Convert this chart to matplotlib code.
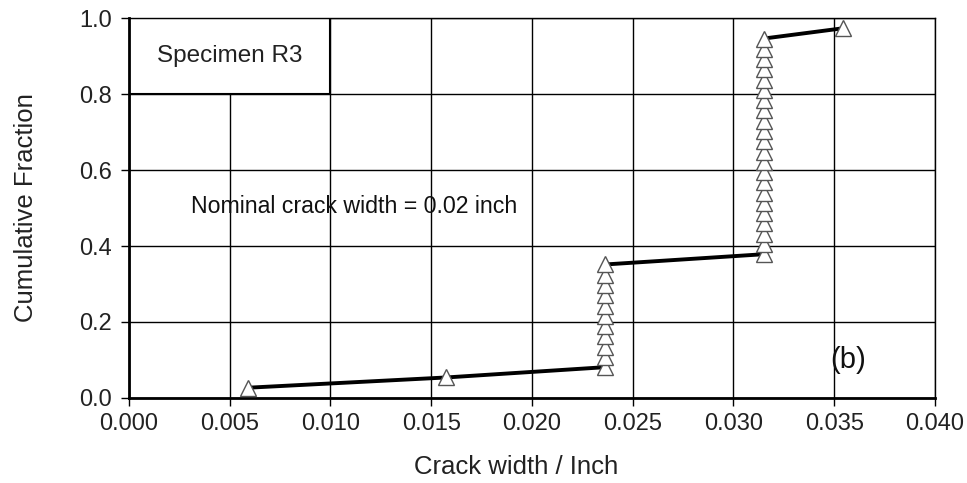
import matplotlib.pyplot as plt

plt.rcParams['font.family'] = ['Liberation Sans', 'DejaVu Sans']

# Ancho de fisura (pulgadas) y fracción acumulada, espécimen R3
crack_width = ([0.0059, 0.01575] + [0.02362] * 11 + [0.0315] * 22 + [0.03543])
n = len(crack_width)
cum_fraction = [(i + 1) / (n + 1) for i in range(n)]

x_ticks = [0.000, 0.005, 0.010, 0.015, 0.020, 0.025, 0.030, 0.035, 0.040]
y_ticks = [0.0, 0.2, 0.4, 0.6, 0.8, 1.0]

fig = plt.figure(figsize=(9.67, 4.83), dpi=100)
ax = fig.add_axes([0.1334, 0.176, 0.8335, 0.7867])

ax.plot(crack_width, cum_fraction, color='black', linewidth=2.8, zorder=3,
        marker='^', markersize=11, markerfacecolor='white',
        markeredgecolor='#555555', markeredgewidth=1.0)

ax.set_xlim(0, 0.04)
ax.set_ylim(0, 1.0)
ax.set_xticks(x_ticks)
ax.set_xticklabels(['%.3f' % v for v in x_ticks])
ax.set_yticks(y_ticks)
ax.set_yticklabels(['%.1f' % v for v in y_ticks])
ax.tick_params(labelsize=17, direction='out', length=6, width=1,
               colors='black', labelcolor='#222222')
ax.tick_params(axis='x', pad=5)
ax.tick_params(axis='y', pad=6)
ax.grid(True, color='black', linewidth=1.0)
ax.set_axisbelow(True)

for side in ['left', 'bottom']:
    ax.spines[side].set_linewidth(2.0)
for side in ['top', 'right']:
    ax.spines[side].set_linewidth(1.0)

ax.set_xlabel('Crack width / Inch', fontsize=18.5, x=0.48, labelpad=14,
              color='#222222')
ax.set_ylabel('Cumulative Fraction', fontsize=18.5, labelpad=30,
              color='#222222')

# Recuadro con el nombre del espécimen
ax.add_patch(plt.Rectangle((0, 0.8), 0.01, 0.2, facecolor='white',
                           edgecolor='black', linewidth=1.5, zorder=2))
ax.text(0.005, 0.9, 'Specimen R3', ha='center', va='center', fontsize=17.5,
        color='#222222', zorder=4)

ax.text(0.0031, 0.505, 'Nominal crack width = 0.02 inch', ha='left', va='center',
        fontsize=16.7, color='#111111')
ax.text(0.0357, 0.1, '(b)', ha='center', va='center', fontsize=21, color='#111111')

fig.savefig('out.png', dpi=100)
